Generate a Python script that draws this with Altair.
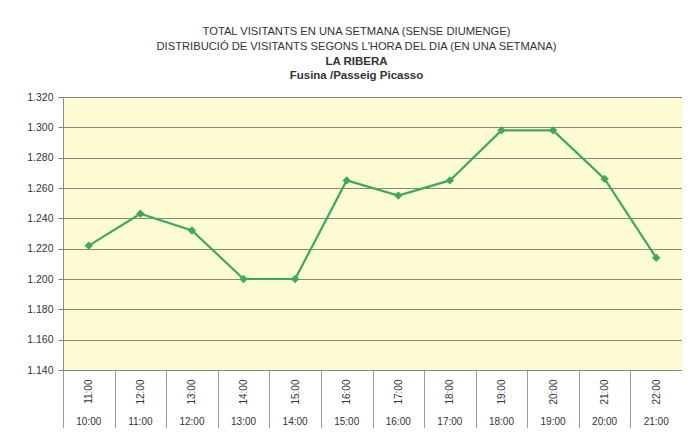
import altair as alt
import pandas as pd

hora_fi = ["11:00", "12:00", "13:00", "14:00", "15:00", "16:00",
           "17:00", "18:00", "19:00", "20:00", "21:00", "22:00"]
hora_inici = ["10:00", "11:00", "12:00", "13:00", "14:00", "15:00",
              "16:00", "17:00", "18:00", "19:00", "20:00", "21:00"]
visitants = [1222, 1243, 1232, 1200, 1200, 1265, 1255, 1265, 1298, 1298, 1266, 1214]

title_lines = ["TOTAL VISITANTS EN UNA SETMANA (SENSE DIUMENGE)",
               "DISTRIBUCIÓ DE VISITANTS SEGONS L'HORA DEL DIA (EN UNA SETMANA)"]
subtitle_lines = ["LA RIBERA", "Fusina /Passeig Picasso"]

df = pd.DataFrame({"fi": hora_fi, "inici": hora_inici, "v": visitants})

FONT = "Liberation Sans"
GREEN = "#3fa860"
H = 273
TICK = 62

x_enc = alt.X("fi:N", sort=hora_fi,
              scale=alt.Scale(paddingInner=0, paddingOuter=0),
              axis=alt.Axis(title=None, labelAngle=270, labelFont=FONT,
                            labelFontSize=10, labelColor="#333333",
                            labelPadding=9 - TICK, tickBand="extent",
                            tickSize=TICK, tickColor="#9a9a9a",
                            domainColor="#8a8a8a", labelOverlap=False))

y_enc = alt.Y("v:Q",
              scale=alt.Scale(domain=[1140, 1320], nice=False, zero=False),
              axis=alt.Axis(values=list(range(1140, 1321, 20)), title=None,
                            labelExpr="replace(format(datum.value, ','), ',', '.')",
                            labelFont=FONT, labelFontSize=10.5, labelColor="#333333",
                            tickSize=5, tickColor="#808080", labelPadding=5,
                            domain=False, grid=True, gridColor="#8a8484",
                            gridWidth=1))

line = alt.Chart(df).mark_line(color=GREEN, strokeWidth=2.2).encode(
    x=x_enc, y=y_enc)

points = alt.Chart(df).mark_point(shape="diamond", filled=True, size=70,
                                  color=GREEN, opacity=1).encode(
    x=x_enc, y=y_enc)

lower_labels = alt.Chart(df).mark_text(font=FONT, fontSize=10, color="#333333",
                                       baseline="middle").encode(
    x=x_enc, y=alt.value(H + 52), text="inici:N")

chart = alt.layer(line, points, lower_labels).properties(
    width=619, height=H,
    background="white",
    title=alt.TitleParams(text=title_lines, subtitle=subtitle_lines,
                          font=FONT, fontSize=11.2, fontWeight="normal",
                          color="#333333", lineHeight=15,
                          subtitleFont=FONT, subtitleFontSize=11.5,
                          subtitleFontWeight="bold", subtitleColor="#333333",
                          subtitleLineHeight=14, subtitlePadding=3,
                          anchor="middle", frame="group", dx=-16, offset=11),
    autosize=alt.AutoSizeParams(type="none"),
    padding={"left": 55, "top": 89, "right": 0, "bottom": 58},
).configure_view(fill="#fdfbd2", stroke="#8a8a8a", strokeWidth=1)

chart.save("out.html", embed_options={"renderer": "svg", "actions": False})
